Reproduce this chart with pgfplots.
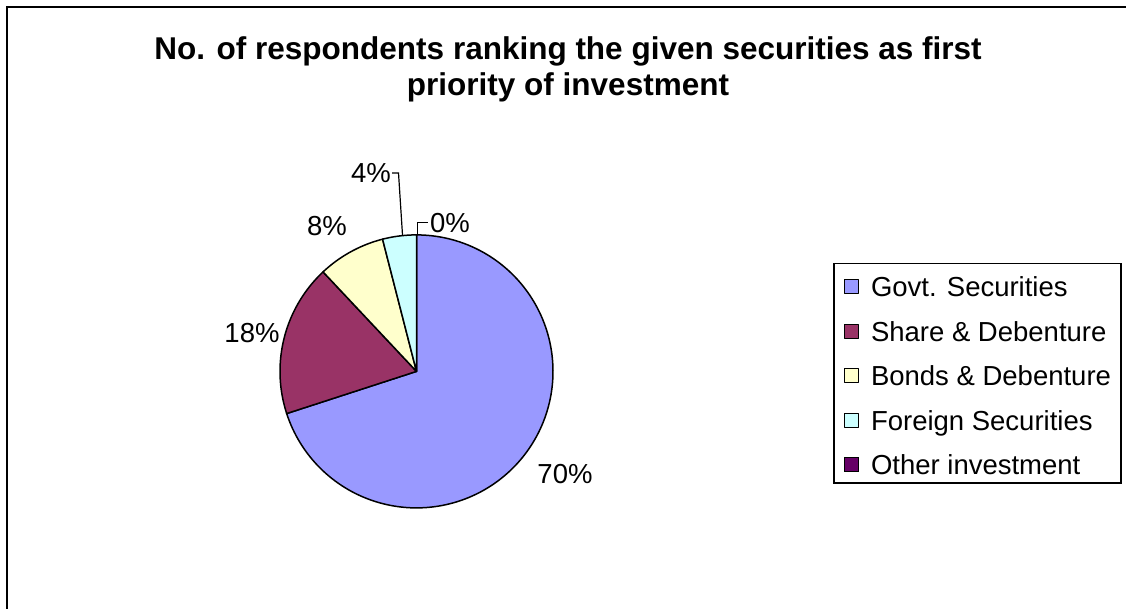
\documentclass[border=0pt]{standalone}
\usepackage{pgfplots}
\pgfplotsset{compat=1.18}
\usepackage{pgfplotstable}
\usepackage{fontspec}
\setmainfont{Liberation Sans}
\definecolor{govt}{HTML}{9999FF}
\definecolor{share}{HTML}{993366}
\definecolor{bonds}{HTML}{FFFFCC}
\definecolor{foreign}{HTML}{CCFFFF}
\definecolor{other}{HTML}{660066}

\pgfplotstableread{
name value
Govt 70
Share 18
Bonds 8
Foreign 4
Other 0
}\piedata

\pgfplotsset{
  sq/.style={legend image code/.code={%
      \draw[fill=#1, draw=black, line width=1pt] (0pt,-9.6pt) rectangle (14pt,4.4pt);
      \path (26pt,0pt);}},
}

\begin{document}
\begin{tikzpicture}
\pgfplotstablegetelem{0}{value}\of\piedata \edef\vA{\pgfplotsretval}
\pgfplotstablegetelem{1}{value}\of\piedata \edef\vB{\pgfplotsretval}
\pgfplotstablegetelem{2}{value}\of\piedata \edef\vC{\pgfplotsretval}
\pgfplotstablegetelem{3}{value}\of\piedata \edef\vD{\pgfplotsretval}
\pgfplotstablegetelem{4}{value}\of\piedata \edef\vE{\pgfplotsretval}
\pgfmathsetmacro\aA{90}
\pgfmathsetmacro\aB{\aA-3.6*\vA}
\pgfmathsetmacro\aC{\aB-3.6*\vB}
\pgfmathsetmacro\aD{\aC-3.6*\vC}
\pgfmathsetmacro\aE{\aD-3.6*\vD}
\def\cx{416.5}\def\cy{371.4}\def\r{136.5}
\begin{axis}[
  at={(0,0)}, anchor=south west,
  width=1126pt, height=609pt, scale only axis,
  xmin=0, xmax=1126, ymin=0, ymax=609, y dir=reverse,
  hide axis, clip=false,
  legend cell align=left,
  legend style={at={(axis cs:833,263)}, anchor=north west,
    draw=black, line width=1.5pt, fill=white,
    font=\fontsize{27.5}{33}\selectfont,
    inner xsep=10pt, inner ysep=3pt, row sep=9.5pt,
    nodes={inner sep=0pt, text height=30pt, text depth=5pt}},
]
\addplot[fill=govt, draw=black, line width=1.5pt, line join=round, sq=govt,
  domain=\aB:\aA, samples=150, variable=\t]
  ({\cx+\r*cos(t)},{\cy-\r*sin(t)}) -- (\cx,\cy) -- cycle;
\addlegendentry{Govt. Securities}
\addplot[fill=share, draw=black, line width=1.5pt, line join=round, sq=share,
  domain=\aC:\aB, samples=60, variable=\t]
  ({\cx+\r*cos(t)},{\cy-\r*sin(t)}) -- (\cx,\cy) -- cycle;
\addlegendentry{Share \& Debenture}
\addplot[fill=bonds, draw=black, line width=1.5pt, line join=round, sq=bonds,
  domain=\aD:\aC, samples=40, variable=\t]
  ({\cx+\r*cos(t)},{\cy-\r*sin(t)}) -- (\cx,\cy) -- cycle;
\addlegendentry{Bonds \& Debenture}
\addplot[fill=foreign, draw=black, line width=1.5pt, line join=round, sq=foreign,
  domain=\aE:\aD, samples=30, variable=\t]
  ({\cx+\r*cos(t)},{\cy-\r*sin(t)}) -- (\cx,\cy) -- cycle;
\addlegendentry{Foreign Securities}
\addlegendimage{sq=other}
\addlegendentry{Other investment}

% title
\node[font=\bfseries\fontsize{31.5}{36}\selectfont, anchor=base] at (axis cs:568,60)
  {No. of respondents ranking the given securities as first};
\node[font=\bfseries\fontsize{31.5}{36}\selectfont, anchor=base] at (axis cs:568,96)
  {priority of investment};

% data labels
\begin{scope}[every node/.style={font=\fontsize{27.5}{33}\selectfont, inner sep=0pt}]
\node at (axis cs:565,474) {70\%};
\node at (axis cs:252,333) {18\%};
\node at (axis cs:327,226) {8\%};
\node at (axis cs:371,173) {4\%};
\node at (axis cs:450,223) {0\%};
\end{scope}
% leader lines
\draw[line width=1.2pt] (axis cs:392,173) -- (axis cs:398.5,173) -- (axis cs:402.5,235);
\draw[line width=1.2pt] (axis cs:417.5,235) -- (axis cs:417.5,222.5) -- (axis cs:428,222.5);

% chart frame
\draw[line width=2pt] (axis cs:7,660) -- (axis cs:7,7) -- (axis cs:1160,7);
\end{axis}
\pgfresetboundingbox
\useasboundingbox (current axis.south west) rectangle (current axis.north east);
\end{tikzpicture}
\end{document}
